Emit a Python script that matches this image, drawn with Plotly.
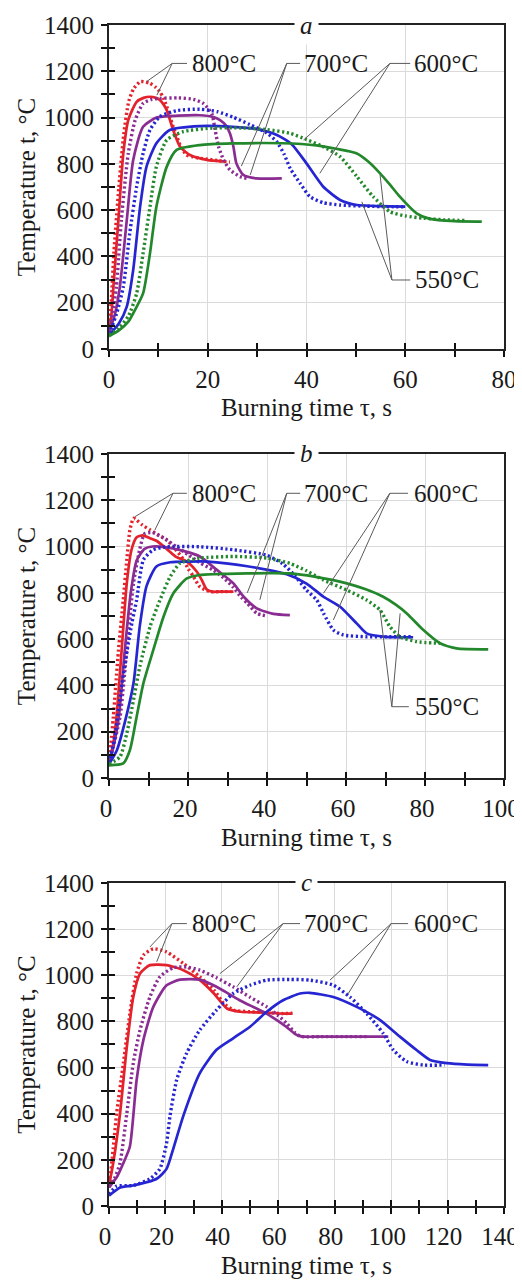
import plotly.graph_objects as go

# ---------------- data ----------------
# Panel a
a_800_exp_t = [0, 0.5, 1, 2, 3, 4, 5, 6.3, 7, 8.3, 9.5, 10.3, 11, 11.7, 12.4, 13, 13.7, 14.4, 15.7, 17, 18.4, 20, 22, 24.5]
a_800_exp_T = [80, 220, 420, 700, 930, 1070, 1125, 1155, 1155, 1148, 1130, 1112, 1085, 1047, 1000, 960, 920, 881, 838, 830, 824, 820, 814, 808]
a_800_mod_t = [0, 0.5, 0.9, 1.9, 2.9, 3.9, 5.6, 7, 8.3, 9.5, 10.3, 11, 11.7, 13, 14.4, 16.4, 19.8, 23.8]
a_800_mod_T = [70, 150, 269, 557, 845, 989, 1068, 1085, 1090, 1085, 1076, 1058, 1032, 946, 874, 838, 817, 809]
a_700_exp_t = [0, 0.7, 1.5, 2.5, 3.9, 5.3, 6.9, 8.5, 10.3, 14, 17.1, 19.1, 20.8, 21.5, 22.2, 23.2, 24.5, 26.5, 28]
a_700_exp_T = [75, 150, 269, 557, 845, 989, 1061, 1078, 1083, 1085, 1079, 1061, 1018, 946, 874, 817, 774, 745, 737]
a_700_mod_t = [0, 1.2, 2.2, 3.6, 4.9, 6.9, 9.6, 14, 18.4, 21, 22.5, 23.7, 24.5, 25.2, 25.8, 27.2, 29.9, 35]
a_700_mod_T = [70, 150, 269, 557, 817, 960, 1000, 1008, 1010, 1003, 989, 965, 931, 874, 802, 752, 737, 737]
a_600_exp_t = [0, 1.5, 2.9, 4.2, 5.6, 6.9, 8.3, 10.3, 13.7, 18.4, 22, 25.1, 28.5, 32, 34, 35.5, 36.7, 38.7, 40.7, 43.4, 46.8, 52, 60]
a_600_exp_T = [65, 150, 269, 500, 701, 845, 946, 1004, 1030, 1036, 1025, 1002, 970, 933, 895, 840, 780, 716, 658, 632, 622, 617, 614]
a_600_mod_t = [0, 2, 3.6, 4.9, 6.3, 7.6, 9.6, 12.3, 18.4, 25, 30, 34, 37, 40, 43.4, 46.8, 50.2, 55, 60]
a_600_mod_T = [60, 110, 183, 341, 615, 788, 889, 946, 963, 960, 950, 925, 885, 802, 701, 644, 622, 617, 615]
a_550_exp_t = [0, 2, 4, 5.6, 6.9, 8.3, 9.6, 11.7, 15, 20.5, 27, 32, 36.7, 40, 43.4, 46.8, 50.2, 53.5, 56.9, 60, 63.7, 68, 72]
a_550_exp_T = [60, 90, 145, 240, 413, 615, 788, 903, 939, 954, 955, 948, 932, 905, 874, 831, 745, 658, 593, 575, 565, 558, 555]
a_550_mod_t = [0, 2, 4, 4.9, 6.9, 8.3, 9.6, 11.7, 13.7, 18.4, 25, 35, 42, 46, 50.2, 52.5, 54.9, 56.9, 58.9, 62.3, 65, 70, 75.5]
a_550_mod_T = [55, 80, 120, 154, 240, 413, 615, 788, 860, 881, 888, 889, 880, 865, 845, 810, 759, 710, 658, 586, 562, 552, 550]

# Panel b
b_800_exp_t = [0, 0.5, 1.1, 2.4, 3.6, 4.5, 5.3, 6.2, 7, 8.5, 10.4, 12.5, 14.6, 16.5, 18.8, 20, 21.4, 23, 25.6, 28, 31]
b_800_exp_T = [70, 150, 265, 552, 769, 942, 1072, 1122, 1114, 1092, 1072, 1050, 1029, 995, 945, 905, 870, 826, 805, 805, 805]
b_800_mod_t = [0, 1, 1.9, 3.2, 4.5, 5.7, 7, 8.5, 10.4, 12, 14.6, 17, 19.7, 22.2, 23.5, 24.7, 26, 28, 31.5]
b_800_mod_T = [65, 140, 265, 552, 841, 986, 1040, 1048, 1036, 1025, 990, 955, 935, 892, 855, 815, 805, 805, 805]
b_700_exp_t = [0, 1, 2.8, 4.5, 6.2, 7.8, 9, 11, 14, 17, 20, 23, 26.3, 29, 31.4, 33.5, 35, 37.4, 40]
b_700_exp_T = [70, 130, 265, 552, 841, 990, 1055, 1060, 1035, 1000, 965, 930, 899, 865, 825, 780, 755, 712, 700]
b_700_mod_t = [0, 1.2, 2.5, 4, 5.5, 7, 9, 11, 15, 19, 23, 27.3, 31.5, 34.1, 37.4, 41.6, 45.8]
b_700_mod_T = [65, 140, 265, 552, 800, 940, 990, 1000, 995, 980, 957, 899, 841, 783, 733, 709, 704]
b_600_exp_t = [0, 1.5, 3.3, 4.6, 5.8, 7, 8.7, 11.2, 14.6, 23, 31.5, 40, 44, 47, 50, 52.6, 54.3, 56.8, 59.3, 65, 71, 76.5]
b_600_exp_T = [65, 180, 409, 552, 670, 769, 942, 986, 999, 999, 986, 962, 925, 875, 812, 769, 712, 639, 618, 610, 610, 610]
b_600_mod_t = [0, 2, 4, 6.2, 7.8, 9.5, 12, 15.5, 20, 25, 35, 45, 50, 54.3, 58.5, 62.7, 65.2, 70, 77]
b_600_mod_T = [60, 120, 240, 409, 657, 829, 914, 932, 935, 935, 915, 880, 840, 783, 740, 668, 625, 610, 608]
b_550_exp_t = [0, 2.8, 4.5, 6.2, 7.8, 10.4, 12.9, 15.5, 18, 23, 31.5, 40, 45.8, 50, 54.3, 60.2, 65.2, 68.6, 71.1, 73.7, 77.9, 83.8]
b_550_exp_T = [60, 92, 193, 337, 481, 654, 769, 870, 928, 950, 957, 950, 927, 895, 855, 812, 769, 726, 654, 610, 589, 582]
b_550_mod_t = [0, 3.6, 5.3, 7, 8.7, 11.2, 13.8, 16.3, 19.7, 23, 30, 40, 45.8, 52, 60.2, 65, 69.4, 72.5, 75.4, 79.6, 83.8, 88, 96]
b_550_mod_T = [55, 63, 121, 265, 409, 552, 697, 798, 862, 877, 882, 885, 884, 870, 841, 815, 783, 750, 711, 639, 582, 560, 556]

# Panel c
c_800_exp_t = [0, 0.35, 1.5, 2.7, 5.1, 7.4, 9.8, 12.2, 15.7, 20.4, 26.4, 32.2, 37.2, 40.7, 44.1, 50, 56, 61.8, 65]
c_800_exp_T = [80, 114, 250, 400, 619, 834, 1008, 1087, 1115, 1101, 1051, 993, 936, 878, 849, 842, 838, 834, 836]
c_800_mod_t = [0, 1.5, 3.9, 6.3, 8.6, 11, 14.5, 20.4, 26.4, 32.2, 37.2, 41.8, 46.5, 55, 61.8, 65]
c_800_mod_T = [90, 186, 400, 688, 906, 1008, 1044, 1044, 1022, 979, 921, 856, 842, 838, 834, 834]
c_700_exp_t = [0, 2, 3.9, 6.3, 8.6, 11, 14.5, 18, 22.8, 27.5, 32.2, 38, 44, 50, 55.9, 60, 63, 66, 68, 75, 85, 92]
c_700_exp_T = [85, 120, 186, 400, 619, 763, 906, 993, 1033, 1036, 1022, 990, 950, 905, 863, 825, 791, 750, 735, 734, 734, 734]
c_700_mod_t = [0, 3, 5.1, 7.4, 9.8, 12.2, 15.7, 20.4, 25.2, 32.2, 38.1, 46.3, 55.8, 62.8, 66, 68, 75, 85, 99]
c_700_mod_T = [80, 130, 186, 258, 547, 720, 863, 957, 981, 981, 950, 892, 834, 777, 745, 735, 734, 734, 734]
c_600_exp_t = [0, 2.7, 8.6, 14.5, 18, 20.4, 21.6, 24, 27.5, 32.2, 38.1, 44, 50, 55.9, 64.2, 71.2, 79.5, 85.4, 91.3, 97.2, 100.8, 105.5, 111.4, 119]
c_600_exp_T = [50, 86, 89, 118, 161, 272, 388, 547, 662, 763, 849, 921, 957, 979, 982, 979, 957, 906, 835, 748, 676, 626, 611, 611]
c_600_mod_t = [0, 4, 8.6, 16.9, 20.4, 22.8, 26.4, 32.2, 38.1, 44, 50, 55.9, 61.7, 67.7, 71.2, 79.5, 87.8, 96.1, 103.1, 109, 113.8, 119.7, 127, 134.4]
c_600_mod_T = [45, 80, 89, 118, 161, 249, 393, 576, 677, 727, 777, 842, 892, 921, 924, 906, 863, 806, 734, 676, 633, 619, 613, 611]

x_ranges = [[0, 80], [0, 100], [0, 140]]
panel_letters = ["a", "b", "c"]

# ---------------- styling ----------------
RED, PURPLE, BLUE, GREEN = "#e3222b", "#8b2c93", "#2525d2", "#23882b"
FONT = "Liberation Serif, Times New Roman, Tinos, DejaVu Serif, serif"
TXT = "#1a1a1a"

panels = [
    [(a_800_exp_t, a_800_exp_T, RED, True), (a_800_mod_t, a_800_mod_T, RED, False),
     (a_700_exp_t, a_700_exp_T, PURPLE, True), (a_700_mod_t, a_700_mod_T, PURPLE, False),
     (a_600_exp_t, a_600_exp_T, BLUE, True), (a_600_mod_t, a_600_mod_T, BLUE, False),
     (a_550_exp_t, a_550_exp_T, GREEN, True), (a_550_mod_t, a_550_mod_T, GREEN, False)],
    [(b_800_exp_t, b_800_exp_T, RED, True), (b_800_mod_t, b_800_mod_T, RED, False),
     (b_700_exp_t, b_700_exp_T, PURPLE, True), (b_700_mod_t, b_700_mod_T, PURPLE, False),
     (b_600_exp_t, b_600_exp_T, BLUE, True), (b_600_mod_t, b_600_mod_T, BLUE, False),
     (b_550_exp_t, b_550_exp_T, GREEN, True), (b_550_mod_t, b_550_mod_T, GREEN, False)],
    [(c_800_exp_t, c_800_exp_T, RED, True), (c_800_mod_t, c_800_mod_T, RED, False),
     (c_700_exp_t, c_700_exp_T, PURPLE, True), (c_700_mod_t, c_700_mod_T, PURPLE, False),
     (c_600_exp_t, c_600_exp_T, BLUE, True), (c_600_mod_t, c_600_mod_T, BLUE, False)],
]

# page body has an 8px default margin: figure is 514x1273 placed at (8,8)
FIG_W, FIG_H = 514, 1273
M_L, M_R, M_T, M_B = 101, 18, 17, 75
y_domains = [[0.7257, 1.0], [0.3624, 0.6368], [0.0, 0.2735]]
x_label_shift = [0, -3, -4]

# leader/label placement (data coordinates of each panel)
labels = [
    [("800°C", 16.4, 1234, [(12.8, 1234, 15.8, 1234), (12.8, 1234, 7.6, 1155), (12.8, 1234, 9.7, 1097)]),
     ("700°C", 39.1, 1234, [(36.0, 1234, 38.7, 1234), (36.0, 1234, 26.8, 790), (36.0, 1234, 28.6, 752)]),
     ("600°C", 61.4, 1234, [(56.9, 1234, 61.0, 1234), (56.9, 1234, 39.4, 903), (56.9, 1234, 42.7, 759)]),
     ("550°C", 61.6, 298, [(57.3, 298, 61.0, 298), (57.3, 298, 51.2, 636), (57.3, 298, 54.9, 752)])],
    [("800°C", 20.5, 1230, [(16.2, 1230, 19.7, 1230), (16.2, 1230, 6.6, 1129), (16.2, 1230, 11.6, 1071)]),
     ("700°C", 48.9, 1230, [(45.0, 1230, 48.4, 1230), (45.0, 1230, 35.0, 800), (45.0, 1230, 38.2, 770)]),
     ("600°C", 76.7, 1230, [(71.1, 1230, 75.7, 1230), (71.1, 1230, 54.3, 798), (71.1, 1230, 56.8, 683)]),
     ("550°C", 76.9, 308, [(71.6, 308, 75.9, 308), (71.6, 308, 68.6, 726), (71.6, 308, 73.7, 711)])],
    [("800°C", 28.7, 1224, [(22.3, 1224, 27.6, 1224), (22.3, 1224, 14.5, 1123), (22.3, 1224, 16.9, 1058)]),
     ("700°C", 68.4, 1224, [(61.7, 1224, 67.7, 1224), (61.7, 1224, 39.3, 1007), (61.7, 1224, 45.3, 950)]),
     ("600°C", 107.4, 1224, [(100.0, 1224, 106.0, 1224), (100.0, 1224, 78.3, 979), (100.0, 1224, 84.8, 921)])],
]

fig = go.Figure()
annotations = []
shapes = []
layout = dict(
    width=FIG_W, height=FIG_H,
    margin=dict(l=M_L, r=M_R, t=M_T, b=M_B, pad=0),
    paper_bgcolor="white", plot_bgcolor="white",
    showlegend=False,
    font=dict(family=FONT, size=24, color=TXT),
)

for i in range(3):
    n = i + 1
    xs = "x" if n == 1 else f"x{n}"
    ys = "y" if n == 1 else f"y{n}"
    xo, yo = f"x{n + 3}", f"y{n + 3}"
    for (t, T, col, dotted) in panels[i]:
        if dotted:
            line = dict(color=col, width=3.4, dash="2.2px,2.6px", shape="spline", smoothing=0.6)
        else:
            line = dict(color=col, width=2.7, shape="spline", smoothing=0.6)
        fig.add_trace(go.Scatter(x=t, y=T, mode="lines", line=line, xaxis=xs, yaxis=ys,
                                 hoverinfo="skip", showlegend=False))
    # empty trace for the overlay axes (inside half of crossing ticks)
    fig.add_trace(go.Scatter(x=[None], y=[None], mode="lines", xaxis=xo, yaxis=yo,
                             hoverinfo="skip", showlegend=False))

    tick_common = dict(ticklen=6, tickwidth=1.5, tickcolor="#111")
    layout["xaxis" if n == 1 else f"xaxis{n}"] = dict(
        domain=[0, 1], anchor=ys, range=x_ranges[i], tick0=0, dtick=20,
        ticks="outside", **tick_common,
        minor=dict(dtick=10, ticks="outside", ticklen=6, tickwidth=1.5, tickcolor="#111", showgrid=False),
        showgrid=True, gridcolor="#dadada", gridwidth=1,
        showline=True, linecolor="#222", linewidth=2, mirror=True, zeroline=False,
        tickfont=dict(family=FONT, size=25, color=TXT), ticklabelstandoff=1,
        ticklabelshift=x_label_shift[i],
        ticklabeloverflow="allow",
        title=dict(text="Burning time τ, s", font=dict(family=FONT, size=25, color=TXT), standoff=7),
        automargin=False,
    )
    layout["yaxis" if n == 1 else f"yaxis{n}"] = dict(
        domain=y_domains[i], anchor=xs, range=[0, 1400], tick0=0, dtick=200,
        ticks="outside", **tick_common,
        minor=dict(dtick=100, ticks="outside", ticklen=6, tickwidth=1.5, tickcolor="#111", showgrid=False),
        showgrid=True, gridcolor="#dadada", gridwidth=1,
        showline=True, linecolor="#222", linewidth=2, mirror=True, zeroline=False,
        tickfont=dict(family=FONT, size=25, color=TXT), ticklabelstandoff=2,
        ticklabeloverflow="allow",
        title=dict(text="Temperature t, °C", font=dict(family=FONT, size=25, color=TXT), standoff=1),
        automargin=False,
    )
    layout[f"xaxis{n + 3}"] = dict(
        overlaying=xs, anchor=yo, range=x_ranges[i], tick0=0, dtick=20,
        ticks="inside", **tick_common,
        minor=dict(dtick=10, ticks="inside", ticklen=6, tickwidth=1.5, tickcolor="#111", showgrid=False),
        showticklabels=False, showgrid=False, showline=False, zeroline=False,
    )
    layout[f"yaxis{n + 3}"] = dict(
        overlaying=ys, anchor=xo, range=[0, 1400], tick0=0, dtick=200,
        ticks="inside", **tick_common,
        minor=dict(dtick=100, ticks="inside", ticklen=6, tickwidth=1.5, tickcolor="#111", showgrid=False),
        showticklabels=False, showgrid=False, showline=False, zeroline=False,
    )

    # panel letter in the top frame
    annotations.append(dict(text=f"<i>{panel_letters[i]}</i>", xref=f"{xs} domain", yref=f"{ys} domain",
                            x=0.5, y=1.0, xanchor="center", yanchor="middle", showarrow=False,
                            bgcolor="white", borderpad=5, font=dict(family=FONT, size=25, color=TXT)))
    for (txt, tx, ty, segs) in labels[i]:
        annotations.append(dict(text=txt, xref=xs, yref=ys, x=tx, y=ty, xanchor="left", yanchor="middle",
                                showarrow=False, font=dict(family=FONT, size=25, color=TXT)))
        for (x0, y0, x1, y1) in segs:
            shapes.append(dict(type="line", xref=xs, yref=ys, x0=x0, y0=y0, x1=x1, y1=y1,
                               line=dict(color="#5a5a5a", width=1)))

layout["annotations"] = annotations
layout["shapes"] = shapes
fig.update_layout(**layout)
fig.write_html("out.html")
